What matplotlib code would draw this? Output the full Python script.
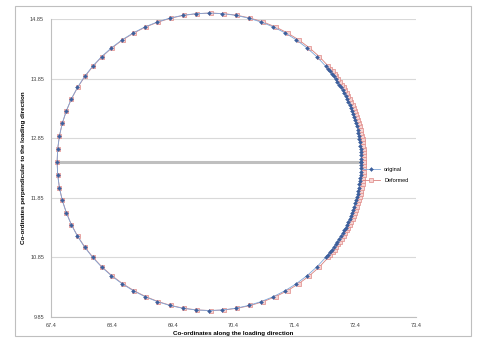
import matplotlib.pyplot as plt
from matplotlib.patches import Rectangle

# original nodes (counter-clockwise from the right-most point)
x_original = [
    72.500, 72.499, 72.498, 72.495, 72.490, 72.485, 72.479, 72.471, 72.462, 72.452, 72.441,
    72.428, 72.415, 72.400, 72.384, 72.367, 72.349, 72.330, 72.310, 72.288, 72.266, 72.242,
    72.218, 72.192, 72.165, 72.137, 72.108, 72.079, 72.048, 72.016, 71.983, 71.950, 71.915,
    71.768, 71.607, 71.434, 71.250, 71.057, 70.855, 70.647, 70.434, 70.218, 70.000, 69.782,
    69.566, 69.353, 69.145, 68.943, 68.750, 68.566, 68.393, 68.232, 68.085, 67.952, 67.835,
    67.734, 67.651, 67.585, 67.538, 67.510, 67.500,
    67.510, 67.538, 67.585, 67.651, 67.734, 67.835, 67.952, 68.085, 68.232, 68.393, 68.566,
    68.750, 68.943, 69.145, 69.353, 69.566, 69.782, 70.000, 70.218, 70.434, 70.647, 70.855,
    71.057, 71.250, 71.434, 71.607, 71.768,
    71.915, 71.950, 71.983, 72.016, 72.048, 72.079, 72.108, 72.137, 72.165, 72.192, 72.218,
    72.242, 72.266, 72.288, 72.310, 72.330, 72.349, 72.367, 72.384, 72.400, 72.415, 72.428,
    72.441, 72.452, 72.462, 72.471, 72.479, 72.485, 72.490, 72.495, 72.498, 72.499, 72.500,
]
y_original = [
    12.450, 12.505, 12.559, 12.614, 12.668, 12.722, 12.776, 12.830, 12.884, 12.938, 12.991,
    13.044, 13.097, 13.150, 13.202, 13.254, 13.305, 13.356, 13.407, 13.457, 13.507, 13.556,
    13.604, 13.652, 13.700, 13.747, 13.793, 13.839, 13.884, 13.928, 13.972, 14.015, 14.057,
    14.218, 14.365, 14.498, 14.615, 14.716, 14.799, 14.865, 14.912, 14.940, 14.950, 14.940,
    14.912, 14.865, 14.799, 14.716, 14.615, 14.498, 14.365, 14.218, 14.057, 13.884, 13.700,
    13.507, 13.305, 13.097, 12.884, 12.668, 12.450,
    12.232, 12.016, 11.803, 11.595, 11.393, 11.200, 11.016, 10.843, 10.682, 10.535, 10.402,
    10.285, 10.184, 10.101, 10.035, 9.988, 9.960, 9.950, 9.960, 9.988, 10.035, 10.101,
    10.184, 10.285, 10.402, 10.535, 10.682,
    10.843, 10.885, 10.928, 10.972, 11.016, 11.061, 11.107, 11.153, 11.200, 11.248, 11.296,
    11.344, 11.393, 11.443, 11.493, 11.544, 11.595, 11.646, 11.698, 11.750, 11.803, 11.856,
    11.909, 11.962, 12.016, 12.070, 12.124, 12.178, 12.232, 12.286, 12.341, 12.395, 12.450,
]

# deformed nodes (stretched along the loading direction)
x_deformed = [
    72.550, 72.549, 72.548, 72.545, 72.540, 72.535, 72.529, 72.521, 72.512, 72.502, 72.490,
    72.477, 72.464, 72.449, 72.433, 72.416, 72.397, 72.378, 72.358, 72.336, 72.314, 72.289,
    72.265, 72.239, 72.212, 72.183, 72.154, 72.125, 72.093, 72.061, 72.028, 71.994, 71.959,
    71.811, 71.648, 71.473, 71.288, 71.093, 70.889, 70.678, 70.463, 70.245, 70.025, 69.805,
    69.587, 69.372, 69.161, 68.957, 68.763, 68.577, 68.402, 68.239, 68.091, 67.957, 67.838,
    67.736, 67.653, 67.586, 67.538, 67.510, 67.500,
    67.510, 67.538, 67.586, 67.653, 67.736, 67.838, 67.957, 68.091, 68.239, 68.402, 68.577,
    68.763, 68.957, 69.161, 69.372, 69.587, 69.805, 70.025, 70.245, 70.463, 70.678, 70.889,
    71.093, 71.288, 71.473, 71.648, 71.811,
    71.959, 71.994, 72.028, 72.061, 72.093, 72.125, 72.154, 72.183, 72.212, 72.239, 72.265,
    72.289, 72.314, 72.336, 72.358, 72.378, 72.397, 72.416, 72.433, 72.449, 72.464, 72.477,
    72.490, 72.502, 72.512, 72.521, 72.529, 72.535, 72.540, 72.545, 72.548, 72.549, 72.550,
]
y_deformed = y_original

# diameter line
x_diameter = [67.5, 72.5]
y_diameter = [12.45, 12.45]

x_ticks = [67.4, 68.4, 69.4, 70.4, 71.4, 72.4, 73.4]
y_ticks = [9.85, 10.85, 11.85, 12.85, 13.85, 14.85]

plt.rcParams['font.family'] = ['Liberation Sans', 'DejaVu Sans']

fig = plt.figure(figsize=(4.79, 3.42), dpi=100)
fig.patches.append(Rectangle((15 / 479, 6 / 342), 456 / 479, 330 / 342, transform=fig.transFigure,
                             fill=False, edgecolor='#bfbfbf', linewidth=0.8))
ax = fig.add_axes([51 / 479, 25.5 / 342, 365 / 479, 297.5 / 342])

ax.plot(x_diameter, y_diameter, color='#bfbfbf', linewidth=2.2, zorder=2)
ax.plot(x_deformed, y_deformed, color='#d9827f', linewidth=0.6, marker='s', markersize=3.4,
        markerfacecolor='#f7d3d2', markeredgecolor='#e08a87', markeredgewidth=0.5,
        label='Deformed', clip_on=False, zorder=3)
ax.plot(x_original, y_original, color='#7ea6d8', linewidth=0.6, marker='D', markersize=2.0,
        markerfacecolor='#3c5f9c', markeredgecolor='#3c5f9c', markeredgewidth=0.3,
        label='original', clip_on=False, zorder=4)

ax.set_xlim(67.4, 73.4)
ax.set_ylim(9.85, 14.85)
ax.set_xticks(x_ticks)
ax.set_xticklabels([f'{v:.1f}' for v in x_ticks])
ax.set_yticks(y_ticks)
ax.set_yticklabels([f'{v:.2f}' for v in y_ticks])
ax.tick_params(labelsize=4, colors='#404040', length=0, pad=5)
ax.grid(axis='y', color='#d9d9d9', linewidth=0.8)
ax.set_axisbelow(True)
for side in ['top', 'right']:
    ax.spines[side].set_visible(False)
for side in ['left', 'bottom']:
    ax.spines[side].set_color('#bfbfbf')
    ax.spines[side].set_linewidth(0.8)

ax.set_xlabel('Co-ordinates along the loading direction', fontsize=4.5, fontweight='bold', labelpad=2)
ax.set_ylabel('Co-ordinates perpendicular to the loading direction', fontsize=4.5, fontweight='bold',
              labelpad=3)

handles, labels = ax.get_legend_handles_labels()
fig.legend(handles[::-1], labels[::-1], loc='center left', bbox_to_anchor=(358 / 479, 1 - 175 / 342),
           fontsize=4, frameon=False, handlelength=3, labelspacing=1.0)

fig.savefig('out.png', dpi=100)
